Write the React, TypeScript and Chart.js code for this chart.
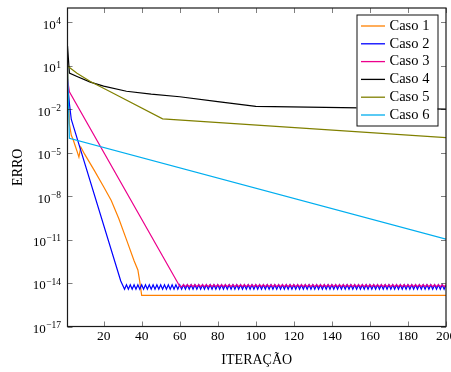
import React, { useEffect, useRef } from "react";
import { Chart, registerables } from "chart.js";

Chart.register(...registerables);

// Iteration numbers (categories of the x axis)
const iteracao = [
  1, 2, 3, 4, 5, 6, 7, 8, 9, 10, 11, 12, 13, 14, 15, 16, 17, 18, 19, 20,
  21, 22, 23, 24, 25, 26, 27, 28, 29, 30, 31, 32, 33, 34, 35, 36, 37, 38, 39, 40,
  41, 42, 43, 44, 45, 46, 47, 48, 49, 50, 51, 52, 53, 54, 55, 56, 57, 58, 59, 60,
  61, 62, 63, 64, 65, 66, 67, 68, 69, 70, 71, 72, 73, 74, 75, 76, 77, 78, 79, 80,
  81, 82, 83, 84, 85, 86, 87, 88, 89, 90, 91, 92, 93, 94, 95, 96, 97, 98, 99, 100,
  101, 102, 103, 104, 105, 106, 107, 108, 109, 110, 111, 112, 113, 114, 115, 116, 117, 118, 119, 120,
  121, 122, 123, 124, 125, 126, 127, 128, 129, 130, 131, 132, 133, 134, 135, 136, 137, 138, 139, 140,
  141, 142, 143, 144, 145, 146, 147, 148, 149, 150, 151, 152, 153, 154, 155, 156, 157, 158, 159, 160,
  161, 162, 163, 164, 165, 166, 167, 168, 169, 170, 171, 172, 173, 174, 175, 176, 177, 178, 179, 180,
  181, 182, 183, 184, 185, 186, 187, 188, 189, 190, 191, 192, 193, 194, 195, 196, 197, 198, 199, 200,
];

const xTickVals = [20, 40, 60, 80, 100, 120, 140, 160, 180, 200];
const yTickVals = [1e4, 1e1, 1e-2, 1e-5, 1e-8, 1e-11, 1e-14, 1e-17];

const seriesNames = ["Caso 1", "Caso 2", "Caso 3", "Caso 4", "Caso 5", "Caso 6"];
const seriesColors = ["#FF8000", "#0000FF", "#EC008C", "#000000", "#808000", "#00AEEF"];

// Caso 1
const caso1Iter = [1, 2, 3, 4, 5, 6, 7, 8, 10, 15, 20, 24, 28, 32, 36, 38, 39, 40, 200];
const caso1Erro = [
  2.0e1, 1.0e-3, 1.6e-4, 8.0e-5, 3.2e-5, 1.3e-5, 5.0e-6, 2.5e-5, 8.0e-6, 6.3e-7,
  4.5e-8, 5.0e-9, 2.8e-10, 1.0e-11, 3.5e-13, 8.0e-14, 1.26e-14, 1.4e-15, 1.4e-15,
];

// Caso 2: descent, then alternating plateau from iteration 32 to 200
const A2 = 7.5e-15; // upper value of the Caso 2 plateau
const B2 = 3.7e-15; // lower value of the Caso 2 plateau
const caso2Head = [6.3e-1, 2.5e-2, 2.0e-3, 1.4e-14, 3.7e-15]; // iter 1, 2, 3, 29, 31
const caso2Plateau = [
  A2, B2, A2, B2, A2, B2, A2, B2, A2, B2, // 32-41
  A2, B2, A2, B2, A2, B2, A2, B2, A2, B2, // 42-51
  A2, B2, A2, B2, A2, B2, A2, B2, A2, B2, // 52-61
  A2, B2, A2, B2, A2, B2, A2, B2, A2, B2, // 62-71
  A2, B2, A2, B2, A2, B2, A2, B2, A2, B2, // 72-81
  A2, B2, A2, B2, A2, B2, A2, B2, A2, B2, // 82-91
  A2, B2, A2, B2, A2, B2, A2, B2, A2, B2, // 92-101
  A2, B2, A2, B2, A2, B2, A2, B2, A2, B2, // 102-111
  A2, B2, A2, B2, A2, B2, A2, B2, A2, B2, // 112-121
  A2, B2, A2, B2, A2, B2, A2, B2, A2, B2, // 122-131
  A2, B2, A2, B2, A2, B2, A2, B2, A2, B2, // 132-141
  A2, B2, A2, B2, A2, B2, A2, B2, A2, B2, // 142-151
  A2, B2, A2, B2, A2, B2, A2, B2, A2, B2, // 152-161
  A2, B2, A2, B2, A2, B2, A2, B2, A2, B2, // 162-171
  A2, B2, A2, B2, A2, B2, A2, B2, A2, B2, // 172-181
  A2, B2, A2, B2, A2, B2, A2, B2, A2, B2, // 182-191
  A2, B2, A2, B2, A2, B2, A2, B2, A2,     // 192-200
];
const caso2Iter = [1, 2, 3, 29, 31].concat(iteracao.slice(31, 200));
const caso2Erro = caso2Head.concat(caso2Plateau);

// Caso 3: descent, then alternating plateau from iteration 61 to 200
const L3 = 5.6e-15; // lower value of the Caso 3 plateau
const H3 = 7.8e-15; // upper value of the Caso 3 plateau
const caso3Head = [1.3, 1.6e-1, 6.0e-15]; // iter 1, 2, 60
const caso3Plateau = [
  L3, H3, L3, H3, L3, H3, L3, H3, L3, H3, // 61-70
  L3, H3, L3, H3, L3, H3, L3, H3, L3, H3, // 71-80
  L3, H3, L3, H3, L3, H3, L3, H3, L3, H3, // 81-90
  L3, H3, L3, H3, L3, H3, L3, H3, L3, H3, // 91-100
  L3, H3, L3, H3, L3, H3, L3, H3, L3, H3, // 101-110
  L3, H3, L3, H3, L3, H3, L3, H3, L3, H3, // 111-120
  L3, H3, L3, H3, L3, H3, L3, H3, L3, H3, // 121-130
  L3, H3, L3, H3, L3, H3, L3, H3, L3, H3, // 131-140
  L3, H3, L3, H3, L3, H3, L3, H3, L3, H3, // 141-150
  L3, H3, L3, H3, L3, H3, L3, H3, L3, H3, // 151-160
  L3, H3, L3, H3, L3, H3, L3, H3, L3, H3, // 161-170
  L3, H3, L3, H3, L3, H3, L3, H3, L3, H3, // 171-180
  L3, H3, L3, H3, L3, H3, L3, H3, L3, H3, // 181-190
  L3, H3, L3, H3, L3, H3, L3, H3, L3, H3, // 191-200
];
const caso3Iter = [1, 2, 60].concat(iteracao.slice(60, 200));
const caso3Erro = caso3Head.concat(caso3Plateau);

// Caso 4
const caso4Iter = [1, 2, 6, 13, 20, 32, 45, 60, 80, 100, 200];
const caso4Erro = [2.5e2, 3.2, 1.86, 7.6e-1, 4.0e-1, 1.78e-1, 1.12e-1, 7.4e-2, 3.4e-2, 1.58e-2, 1.05e-2];

// Caso 5
const caso5Iter = [1, 6, 13, 23, 51, 200];
const caso5Erro = [1.0e1, 3.16, 8.3e-1, 1.78e-1, 2.2e-3, 1.12e-4];

// Caso 6
const caso6Iter = [1, 2, 200];
const caso6Erro = [1.0e1, 1.0e-4, 1.07e-11];

const allIters = [caso1Iter, caso2Iter, caso3Iter, caso4Iter, caso5Iter, caso6Iter];
const allErros = [caso1Erro, caso2Erro, caso3Erro, caso4Erro, caso5Erro, caso6Erro];

const FONT = "'Liberation Serif', 'DejaVu Serif', serif";

const expText = (v: number) => String(Math.round(Math.log10(v))).replace("-", "\u2212");

const framePlugin = {
  id: "framePlugin",
  afterDraw(chart: any) {
    const { ctx, chartArea: a, scales } = chart;
    ctx.save();
    // inward ticks on all four sides
    ctx.strokeStyle = "rgba(0,0,0,0.5)";
    ctx.lineWidth = 1;
    ctx.beginPath();
    for (const v of xTickVals) {
      const px = Math.round(scales.x.getPixelForValue(v)) + 0.5;
      ctx.moveTo(px, a.bottom);
      ctx.lineTo(px, a.bottom - 5);
      ctx.moveTo(px, a.top);
      ctx.lineTo(px, a.top + 5);
    }
    for (const v of yTickVals) {
      const py = Math.round(scales.y.getPixelForValue(v)) + 0.5;
      ctx.moveTo(a.left, py);
      ctx.lineTo(a.left + 5, py);
      ctx.moveTo(a.right, py);
      ctx.lineTo(a.right - 5, py);
    }
    ctx.stroke();
    // axis box
    ctx.strokeStyle = "#1a1a1a";
    ctx.lineWidth = 1.2;
    ctx.strokeRect(a.left, a.top, a.right - a.left, a.bottom - a.top);

    // y tick labels: 10 with a raised exponent
    ctx.fillStyle = "#000";
    ctx.textAlign = "left";
    ctx.textBaseline = "alphabetic";
    const right = a.left - 6.5;
    for (const v of yTickVals) {
      const py = scales.y.getPixelForValue(v);
      const e = expText(v);
      ctx.font = `9.5px ${FONT}`;
      const ew = ctx.measureText(e).width;
      ctx.fillText(e, right - ew, py + 1.8);
      ctx.font = `13px ${FONT}`;
      const bw = ctx.measureText("10").width;
      ctx.fillText("10", right - ew - bw - 0.5, py + 6.3);
    }

    // legend
    const bx = a.right - 89.5;
    const by = a.top + 6.5;
    const bw = 81;
    const bh = 111;
    ctx.fillStyle = "#ffffff";
    ctx.fillRect(bx, by, bw, bh);
    ctx.strokeStyle = "#111";
    ctx.lineWidth = 1;
    ctx.strokeRect(bx + 0.5, by + 0.5, bw, bh);
    ctx.font = `14.5px ${FONT}`;
    ctx.textBaseline = "middle";
    ctx.textAlign = "left";
    chart.data.datasets.forEach((ds: any, i: number) => {
      const y = by + 11.5 + i * 17.8;
      ctx.strokeStyle = ds.borderColor;
      ctx.lineWidth = 1.3;
      ctx.beginPath();
      ctx.moveTo(bx + 4.5, y);
      ctx.lineTo(bx + 28.5, y);
      ctx.stroke();
      ctx.fillStyle = "#000";
      ctx.fillText(ds.label, bx + 33, y);
    });
    ctx.restore();
  },
};

export default function App() {
  const canvasRef = useRef<HTMLCanvasElement | null>(null);

  useEffect(() => {
    const canvas = canvasRef.current;
    if (!canvas) return;
    const datasets = seriesNames.map((name, i) => ({
      label: name,
      data: allIters[i].map((x, j) => ({ x, y: allErros[i][j] })),
      borderColor: seriesColors[i],
      backgroundColor: seriesColors[i],
      borderWidth: 1.2,
      pointRadius: 0,
      tension: 0,
      fill: false,
      order: seriesNames.length - i,
    }));

    const chart = new Chart(canvas, {
      type: "line",
      data: { datasets },
      plugins: [framePlugin],
      options: {
        animation: false,
        responsive: false,
        devicePixelRatio: 1,
        layout: { padding: { top: 8, right: 5, left: 0, bottom: 0 } },
        plugins: {
          legend: { display: false },
          tooltip: { enabled: false },
        },
        scales: {
          x: {
            type: "linear",
            min: 1,
            max: 200,
            grid: { display: false, drawTicks: false },
            border: { display: false },
            ticks: {
              autoSkip: false,
              maxRotation: 0,
              padding: 2,
              color: "#000",
              font: { family: FONT, size: 13.5 },
              callback: (v: any) => String(v),
            },
            title: {
              display: true,
              text: "ITERAÇÃO",
              color: "#000",
              font: { family: FONT, size: 14 },
              padding: { top: 0, bottom: 3 },
            },
            afterBuildTicks: (scale: any) => {
              scale.ticks = xTickVals.map((v) => ({ value: v }));
            },
            afterFit: (scale: any) => {
              scale.height = 45.5;
              scale.paddingLeft = 0;
              scale.paddingRight = 0;
            },
          },
          y: {
            type: "logarithmic",
            min: 1e-17,
            max: 1e5,
            grid: { display: false, drawTicks: false },
            border: { display: false },
            ticks: { display: false },
            title: {
              display: true,
              text: "ERRO",
              color: "#000",
              font: { family: FONT, size: 14 },
              padding: { top: 10, bottom: 0 },
            },
            afterBuildTicks: (scale: any) => {
              scale.ticks = yTickVals.map((v) => ({ value: v }));
            },
            afterFit: (scale: any) => {
              scale.width = 67.5;
              scale.paddingTop = 0;
              scale.paddingBottom = 0;
            },
          },
        },
      },
    } as any);
    return () => chart.destroy();
  }, []);

  return (
    <div style={{ position: "absolute", left: 0, top: 0, width: 451, height: 372, background: "#fff" }}>
      <canvas ref={canvasRef} width={451} height={372} style={{ width: 451, height: 372, display: "block" }} />
    </div>
  );
}
